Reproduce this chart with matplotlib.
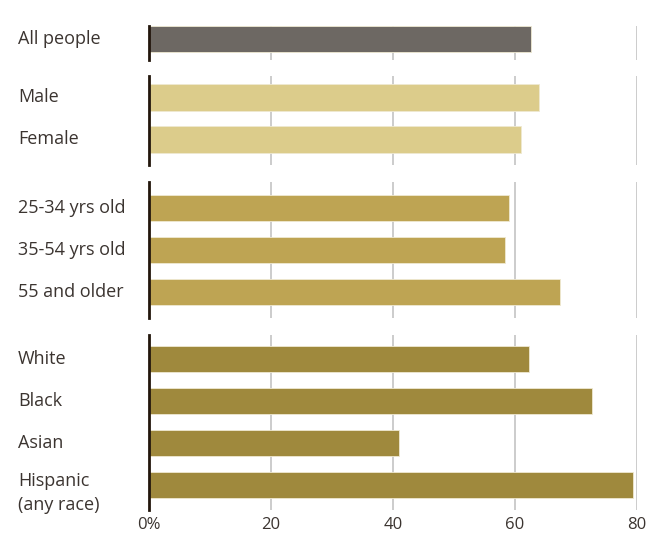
import matplotlib.pyplot as plt
from matplotlib.transforms import blended_transform_factory

plt.rcParams['font.family'] = ['Open Sans', 'DejaVu Sans']

# Data, one list per group
group_labels = [
    ['All people'],
    ['Male', 'Female'],
    ['25-34 yrs old', '35-54 yrs old', '55 and older'],
    ['White', 'Black', 'Asian', 'Hispanic\n(any race)'],
]
group_values = [
    [62.6],
    [63.9, 61.0],
    [59.0, 58.4, 67.4],
    [62.3, 72.6, 41.0, 79.3],
]
group_colors = ['#6d6863', '#dccc8b', '#bea453', '#9f893d']
tick_values = [0, 20, 40, 60, 80]
tick_labels = ['0%', '20', '40', '60', '80']

W, H = 652, 535
fig = plt.figure(figsize=(W / 100, H / 100), dpi=100)

# pixel layout for each panel: (axis top, axis bottom, first bar centre)
left_px, right_px = 149, 637
px_per_row = 42
panels = [(26, 60, 39), (76, 165, 97.5), (182, 318, 208), (335, 510, 359)]

for i, (top, bot, c0) in enumerate(panels):
    ax = fig.add_axes([left_px / W, 1 - bot / H, (right_px - left_px) / W, (bot - top) / H])
    labels = group_labels[i]
    vals = group_values[i]
    pos = list(range(len(vals)))
    ax.barh(pos, vals, height=0.62, color=group_colors[i], edgecolor='#efe9d2',
            linewidth=0.6, zorder=3)
    y_top = -(c0 - top) / px_per_row
    y_bot = y_top + (bot - top) / px_per_row
    ax.set_ylim(y_bot, y_top)
    ax.set_xlim(0, 80)
    ax.set_xticks(tick_values)
    ax.grid(axis='x', color='#cccccc', linewidth=1.4, zorder=0)
    for s in ['top', 'right', 'bottom']:
        ax.spines[s].set_visible(False)
    ax.spines['left'].set_color('#22160c')
    ax.spines['left'].set_linewidth(2)
    ax.spines['left'].set_zorder(4)
    ax.set_yticks([])
    ax.tick_params(axis='x', length=0)
    if i < len(panels) - 1:
        ax.set_xticklabels([])
    else:
        ax.set_xticklabels(tick_labels, fontsize=12, color='#3b3430')
        ax.tick_params(axis='x', pad=5)
    trans = blended_transform_factory(fig.transFigure, ax.transData)
    for p, lab in zip(pos, labels):
        nl = lab.count('\n')
        ax.text(18 / W, p + 0.19 * nl, lab, transform=trans, fontsize=13,
                color='#3b3430', va='center', ha='left', linespacing=1.4)

fig.savefig('out.png', dpi=100)
